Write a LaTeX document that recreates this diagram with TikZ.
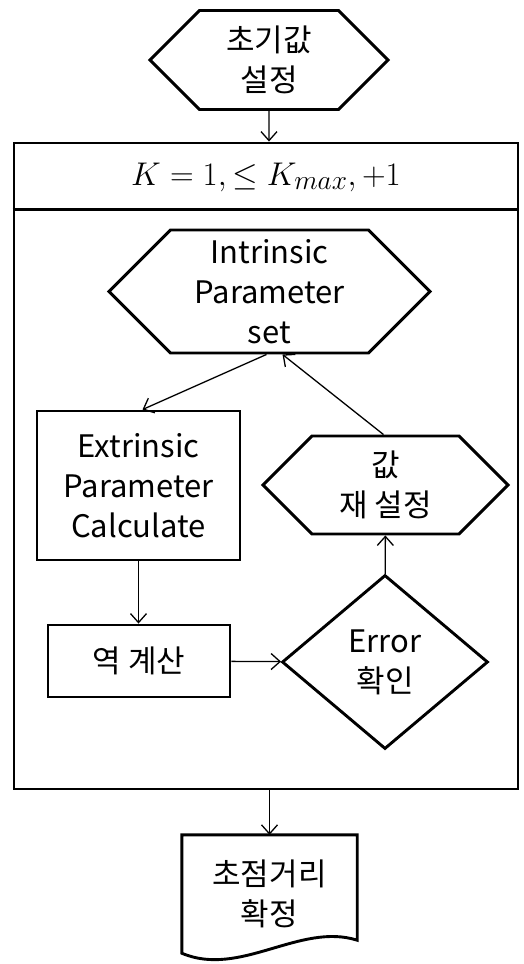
\documentclass[tikz,border=0pt]{standalone}
\usepackage{graphicx}
\usepackage{fontspec}
\setmainfont{Noto Sans CJK KR}
\usetikzlibrary{arrows.meta,shapes.geometric,shapes.symbols}

\begin{document}
\begin{tikzpicture}[
    x=1pt, y=-1pt,
    box/.style={draw, line width=2.9pt, align=center, inner sep=0pt},
    hexa/.style={box, signal, signal from=nowhere, signal to=west and east, signal pointer angle=90},
    decide/.style={box, diamond, aspect=1.18},
    >={Straight Barb[length=9pt, width=16pt]},
    flow/.style={->, line width=1.3pt},
    font=\fontsize{31}{40}\selectfont
]
    \useasboundingbox (0,0) rectangle (523,964);

    % 초기값 / 반복 블록
    \node[hexa, minimum width=238, minimum height=99] (init) at (269,60) {초기값\\설정};
    \node[box, minimum width=504, minimum height=646] (loop) at (266,466) {};
    \draw[line width=2.9pt] ([yshift=-68pt]loop.north west) -- ([yshift=-68pt]loop.north east);
    \node (hdr) at (266,177) {\scalebox{1.32}{$K=1,\le K_{max},+1$}};

    % 반복 내부
    \node[hexa, minimum width=321, minimum height=123] (intr) at (269.5,291.5) {Intrinsic\\Parameter\\set};
    \node[box, minimum width=203, minimum height=149] (extr) at (138.5,485.5) {Extrinsic\\Parameter\\Calculate};
    \node[hexa, minimum width=245, minimum height=98] (reset) at (385.5,485) {값\\재 설정};
    \node[box, minimum width=182, minimum height=72] (inv) at (139,661) {역 계산};
    \node[decide, minimum width=206, minimum height=174] (err) at (385,662) {Error\\확인};

    % 결과 (문서)
    \node[align=center, inner sep=0pt, minimum width=175, minimum height=118] (fin) at (269.5,894) {초점거리\\확정};
    \draw[line width=2.9pt] (fin.south west) -- (fin.north west) -- (fin.north east)
        -- ([yshift=13pt]fin.south east) .. controls (300,922) and (240,978) .. (fin.south west) -- cycle;

    % 연결선
    \draw[flow] (init) -- (init |- loop.north);
    \draw[flow] ([xshift=-3pt]intr.south) -- ([xshift=4pt]extr.north);
    \draw[flow] ([xshift=-2pt]reset.north) -- ([xshift=13pt]intr.south);
    \draw[flow] (extr) -- (extr |- inv.north);
    \draw[flow] (inv) -- (err);
    \draw[flow] (err) -- (reset);
    \draw[flow] (fin |- loop.south) -- (fin);
\end{tikzpicture}
\end{document}
